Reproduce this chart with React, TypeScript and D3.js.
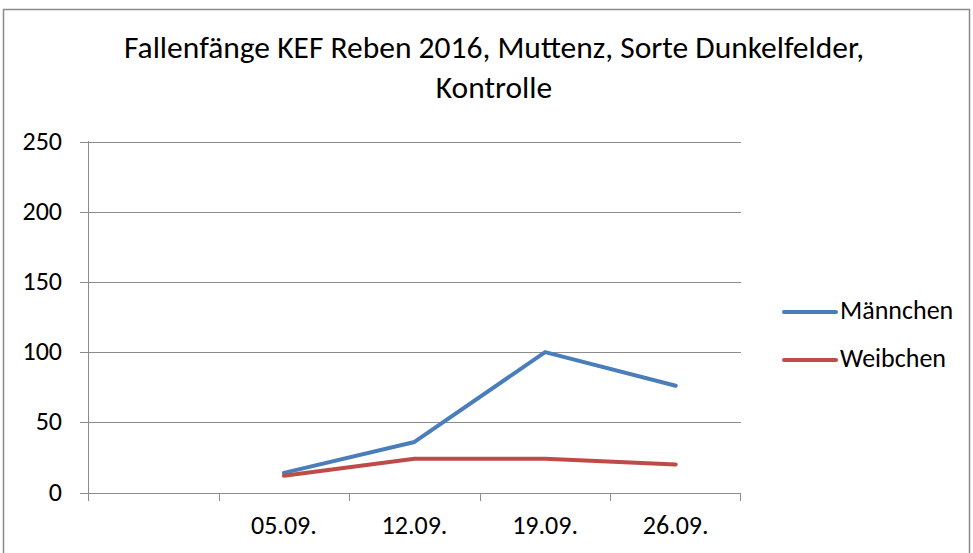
import React from "react";
import * as d3 from "d3";

const categories = ["", "05.09.", "12.09.", "19.09.", "26.09."];
const maennchen: (number | null)[] = [null, 14, 36, 100, 76];
const weibchen: (number | null)[] = [null, 12, 24, 24, 20];
const yTicks = [0, 50, 100, 150, 200, 250];
const seriesNames = ["Männchen", "Weibchen"];
const seriesColors = ["#4A7EBB", "#BE4B48"];
const titleLines = ["Fallenfänge KEF Reben 2016, Muttenz, Sorte Dunkelfelder,", "Kontrolle"];

const FONT = "Carlito, 'Liberation Sans Narrow', 'Open Sans', sans-serif";

export default function App() {
  const W = 973, H = 553;
  const x = d3.scaleBand<string>().domain(categories).range([88, 741]).paddingInner(0).paddingOuter(0);
  const y = d3.scaleLinear().domain([0, 250]).range([492.5, 141.5]);
  const line = d3
    .line<number | null>()
    .defined((d) => d != null)
    .x((_, i) => (x(categories[i]) as number) + x.bandwidth() / 2)
    .y((d) => y(d as number));
  const series = [maennchen, weibchen];
  const grid = "#8C8C8C";
  return (
    <svg width={W} height={H} style={{ position: "absolute", left: 0, top: 0, background: "#fff" }} fontFamily={FONT}>
      <rect x={3.5} y={9.5} width={966} height={560} fill="#fff" stroke="#8A8A8A" strokeWidth={1.5} />
      {titleLines.map((t, i) => (
        <text key={i} x={494} y={58 + i * 40} textAnchor="middle" fontSize={31.5} fill="#000">
          {t}
        </text>
      ))}
      {yTicks.map((t) => (
        <g key={t}>
          <line x1={80} x2={741} y1={Math.round(y(t)) + 0.5} y2={Math.round(y(t)) + 0.5} stroke={grid} strokeWidth={1} />
          <text x={62} y={y(t)} dy="0.31em" textAnchor="end" fontSize={26} fill="#000">
            {t}
          </text>
        </g>
      ))}
      <line x1={88.5} x2={88.5} y1={141} y2={493} stroke={grid} strokeWidth={1} />
      {categories.map((c, i) => (
        <line key={"t" + i} x1={Math.round(x(c) as number) + 0.5} x2={Math.round(x(c) as number) + 0.5} y1={493} y2={501} stroke={grid} />
      ))}
      <line x1={740.5} x2={740.5} y1={493} y2={501} stroke={grid} />
      {categories.map((c, i) => (
        <text key={"l" + i} x={(x(c) as number) + x.bandwidth() / 2} y={534} textAnchor="middle" fontSize={26} fill="#000">
          {c}
        </text>
      ))}
      {series.map((s, i) => (
        <path key={"s" + i} d={line(s) || ""} fill="none" stroke={seriesColors[i]} strokeWidth={4} strokeLinejoin="round" strokeLinecap="round" />
      ))}
      {seriesNames.map((n, i) => (
        <g key={"lg" + i}>
          <line x1={784} x2={836} y1={312 + i * 48} y2={312 + i * 48} stroke={seriesColors[i]} strokeWidth={4} strokeLinecap="round" />
          <text x={840} y={319 + i * 48} fontSize={26} fill="#000">
            {n}
          </text>
        </g>
      ))}
    </svg>
  );
}
